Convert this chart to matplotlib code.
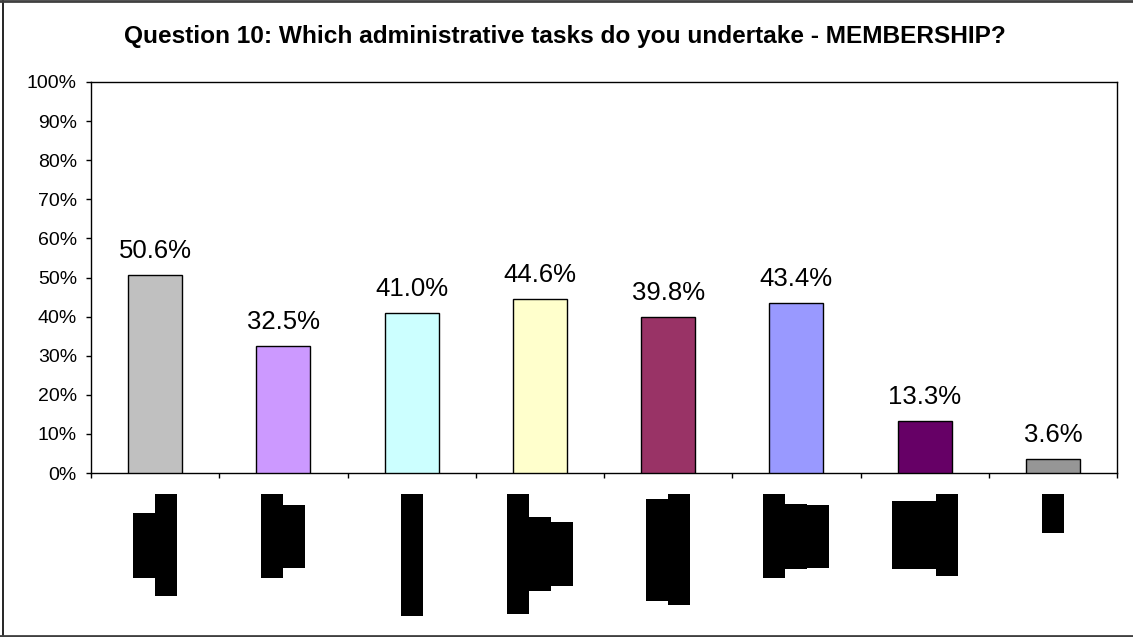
import numpy as np
import matplotlib
matplotlib.use("Agg")
import matplotlib.pyplot as plt
from matplotlib.lines import Line2D
from matplotlib.patches import Rectangle
from matplotlib.ticker import MultipleLocator, PercentFormatter

plt.rcParams['font.family'] = ['Liberation Sans', 'DejaVu Sans']

title = "Question 10: Which administrative tasks do you undertake - MEMBERSHIP?"
values = [50.6, 32.5, 41.0, 44.6, 39.8, 43.4, 13.3, 3.6]
colors = ['#C0C0C0', '#CC99FF', '#CCFFFF', '#FFFFCC',
          '#993366', '#9999FF', '#660066', '#969696']
# blacked-out category labels: length (px) of each rotated text line
label_lines = [[65, 102], [84, 63], [122], [120, 74, 64],
               [102, 111], [84, 65, 63], [68, 68, 82], [39]]

W, H = 1133, 637
fig = plt.figure(figsize=(W / 100, H / 100), dpi=100)
fig.patch.set_facecolor('white')

# plot area in pixels: left 91, right 1117, top 82, bottom 473
ax = fig.add_axes([91 / W, (H - 473) / H, 1026 / W, 391 / H])
x = np.arange(len(values))
ax.bar(x, values, width=0.42, color=colors, edgecolor='black', linewidth=1, zorder=3)

ax.set_xlim(-0.5, len(values) - 0.5)
ax.set_ylim(0, 100)
ax.yaxis.set_major_locator(MultipleLocator(10))
ax.yaxis.set_major_formatter(PercentFormatter(decimals=0))
ax.set_xticks(np.arange(-0.5, len(values), 1))
ax.set_xticklabels([])
ax.tick_params(direction='out', length=3.6, width=1, labelsize=14, pad=6.5)
for s in ax.spines.values():
    s.set_linewidth(1)
    s.set_color('black')

for i, v in enumerate(values):
    ax.annotate(f"{v:.1f}%", (i, v), xytext=(0, 12.2), textcoords='offset points',
                ha='center', va='baseline', fontsize=18.5)

fig.text(0.4983, (H - 37) / H, title, ha='center', va='center',
         fontsize=17.6, fontweight='bold')

# redacted category labels drawn as solid blocks under each bar
col_w, block_top = 22, 494
for i, lines in enumerate(label_lines):
    xc = ax.transData.transform((i, 0))[0]
    x0 = xc - len(lines) * col_w / 2
    mid = block_top + max(lines) / 2
    for j, ln in enumerate(lines):
        y_bot = mid + ln / 2
        fig.add_artist(Rectangle(((x0 + j * col_w) / W, (H - y_bot) / H),
                                 col_w / W, ln / H, transform=fig.transFigure,
                                 facecolor='black', edgecolor='none'))

# chart frame
fig.add_artist(Line2D([2.5 / W, 2.5 / W], [(H - 1) / H, (H - 635) / H],
                      transform=fig.transFigure, color='black', lw=1.2))
fig.add_artist(Line2D([0, 1], [(H - 1) / H, (H - 1) / H],
                      transform=fig.transFigure, color='#404040', lw=2))
fig.add_artist(Line2D([0, 1], [(H - 635.5) / H, (H - 635.5) / H],
                      transform=fig.transFigure, color='#404040', lw=2))

fig.savefig("out.png", dpi=100)
